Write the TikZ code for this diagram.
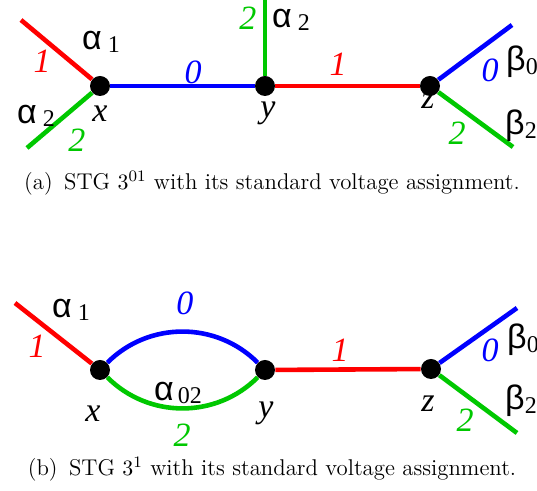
\documentclass[tikz,border=0pt]{standalone}
\usepackage{fontspec}
\usepackage{tikz}
\usetikzlibrary{positioning}
\newfontfamily\lsans{Liberation Sans}
\newfontfamily\lserif{Liberation Serif}
\definecolor{stgred}{RGB}{255,0,0}
\definecolor{stgblue}{RGB}{0,0,255}
\definecolor{stggreen}{RGB}{0,200,0}
% greek label with a lowered index
\newcommand{\gl}[3]{{\lsans\fontsize{17}{17}\selectfont #1}\hspace{#3}\raisebox{-.4ex}{\lserif\fontsize{12}{12}\selectfont #2}}

\begin{document}
\begin{tikzpicture}[x=0.5pt, y=-0.5pt,
   vtx/.style={circle, fill=black, inner sep=0pt, minimum size=10pt},
   v0/.style={draw=stgblue, line width=2.3pt},
   v1/.style={draw=stgred, line width=2.3pt},
   v2/.style={draw=stggreen, line width=2.3pt},
   vl/.style={font=\lserif\itshape\fontsize{17}{17}\selectfont, inner sep=0pt},
   nm/.style={font=\lserif\itshape\fontsize{17}{17}\selectfont, inner sep=0pt},
   captxt/.style={font=\fontsize{11.4}{13}\selectfont, inner sep=0pt},
   gr/.style={inner sep=0pt}]
  \useasboundingbox (0,0) rectangle (537,491);

  % (a) STG 3^01
  \node[vtx] (xa) at (100,86) {};
  \node[vtx] (ya) at (265,86) {};
  \node[vtx] (za) at (430,86) {};
  \coordinate (xa1) at (21,20);
  \coordinate (xa2) at (27,148);
  \coordinate (ya2) at (265,0);
  \coordinate (za0) at (512,25);
  \coordinate (za2) at (513,147);
  \draw[v1] (xa1) -- (xa);
  \draw[v2] (xa2) -- (xa);
  \draw[v0] (xa) -- (ya);
  \draw[v2] (ya2) -- (ya);
  \draw[v1] (ya) -- (za);
  \draw[v0] (za) -- (za0);
  \draw[v2] (za) -- (za2);
  \node[vl, stgred] (la1) at (42,61) {1};
  \node[vl, stggreen] (la2) at (77,140) {2};
  \node[vl, stgblue] (la3) at (193,72) {0};
  \node[vl, stggreen] (la4) at (248,18) {2};
  \node[vl, stgred] (la5) at (338,64) {1};
  \node[vl, stgblue] (la6) at (490,70) {0};
  \node[vl, stggreen] (la7) at (457,133) {2};
  \node[gr] (ga1) at (101,42) {\gl{α}{1}{3pt}};
  \node[gr] (ga2) at (36,116) {\gl{α}{2}{3pt}};
  \node[gr] (ga3) at (291,20) {\gl{α}{2}{3pt}};
  \node[gr] (gb0) at (522,62) {\gl{β}{0}{0pt}};
  \node[gr] (gb2) at (521,126) {\gl{β}{2}{0pt}};
  \node[nm] (na) at (100,114) {x};
  \node[nm] (nb) at (268,113) {y};
  \node[nm] (nc) at (428,101) {z};
  \node[captxt] (capa) at (272,183) {(a)\enspace STG $3^{01}$ with its standard voltage assignment.};

  % (b) STG 3^1
  \node[vtx] (xb) at (100,370) {};
  \node[vtx] (yb) at (265,370) {};
  \node[vtx] (zb) at (431,369) {};
  \coordinate (xb1) at (15,303);
  \coordinate (zb0) at (517,308);
  \coordinate (zb2) at (517,433);
  \draw[v1] (xb1) -- (xb);
  \draw[v0] (xb) to[out=45,in=135] (yb);
  \draw[v2] (xb) to[out=-45,in=-135] (yb);
  \draw[v1] (yb) -- (zb);
  \draw[v0] (zb) -- (zb0);
  \draw[v2] (zb) -- (zb2);
  \node[vl, stgred] (lb1) at (37,346) {1};
  \node[vl, stgblue] (lb2) at (185,303) {0};
  \node[vl, stggreen] (lb3) at (182,435) {2};
  \node[vl, stgred] (lb4) at (340,350) {1};
  \node[vl, stgblue] (lb5) at (490,350) {0};
  \node[vl, stggreen] (lb6) at (465,420) {2};
  \node[gr] (gc1) at (71,310) {\gl{α}{1}{3pt}};
  \node[gr] (gc2) at (178,393) {\gl{α}{02}{2pt}};
  \node[gr] (gd0) at (523,340) {\gl{β}{0}{0pt}};
  \node[gr] (gd2) at (521,401) {\gl{β}{2}{0pt}};
  \node[nm] (nd) at (93,414) {x};
  \node[nm] (ne) at (266,413) {y};
  \node[nm] (nf) at (428,404) {z};
  \node[captxt] (capb) at (272,469) {(b)\enspace STG $3^{1}$ with its standard voltage assignment.};
\end{tikzpicture}
\end{document}
